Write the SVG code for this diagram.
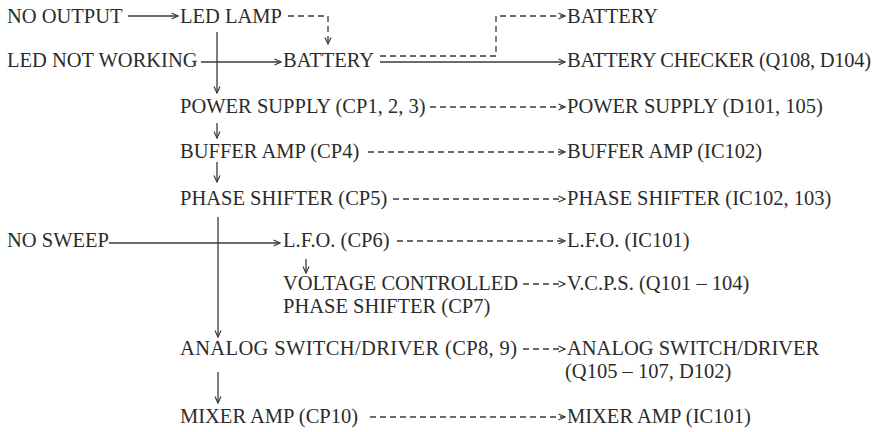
<svg xmlns="http://www.w3.org/2000/svg" width="875" height="432" viewBox="0 0 875 432">
<style>
text { font-family: "Liberation Serif", "Times New Roman", serif; font-size: 20.5px; fill: #2b2b2b; }
.ln { stroke: #3a3a3a; stroke-width: 1.3; fill: none; }
.dash { stroke-dasharray: 6 4; }
</style>
<defs>
<marker id="ah" viewBox="0 0 8 8" refX="7.5" refY="4" markerWidth="8" markerHeight="8" orient="auto" markerUnits="userSpaceOnUse">
<path d="M1,1 L7.5,4 L1,7" fill="none" stroke="#3a3a3a" stroke-width="1.2"/>
</marker>
</defs>
<rect width="875" height="432" fill="#ffffff"/>

<g id="connectors">
<line class="ln" x1="128" y1="16" x2="178" y2="16" marker-end="url(#ah)"/>
<path class="ln dash" d="M288,16 H328 V44" marker-end="url(#ah)"/>
<line class="ln" x1="201" y1="62" x2="281" y2="62" marker-end="url(#ah)"/>
<line class="ln" x1="217" y1="32" x2="217" y2="93" marker-end="url(#ah)"/>
<path class="ln dash" d="M380,56 H496 V16 H565" marker-end="url(#ah)"/>
<line class="ln" x1="380" y1="62" x2="565" y2="62" marker-end="url(#ah)"/>
<line class="ln dash" x1="430" y1="107" x2="565" y2="107" marker-end="url(#ah)"/>
<line class="ln" x1="217" y1="123" x2="217" y2="138" marker-end="url(#ah)"/>
<line class="ln dash" x1="368" y1="152" x2="565" y2="152" marker-end="url(#ah)"/>
<line class="ln" x1="217" y1="162" x2="217" y2="182" marker-end="url(#ah)"/>
<line class="ln dash" x1="393" y1="199" x2="565" y2="199" marker-end="url(#ah)"/>
<line class="ln" x1="218" y1="217" x2="218" y2="337" marker-end="url(#ah)"/>
<line class="ln" x1="109" y1="243" x2="280" y2="243" marker-end="url(#ah)"/>
<line class="ln dash" x1="397" y1="241" x2="565" y2="241" marker-end="url(#ah)"/>
<line class="ln" x1="306" y1="259" x2="306" y2="273" marker-end="url(#ah)"/>
<line class="ln dash" x1="523" y1="284" x2="565" y2="284" marker-end="url(#ah)"/>
<line class="ln dash" x1="523" y1="349" x2="565" y2="349" marker-end="url(#ah)"/>
<line class="ln" x1="218" y1="372" x2="218" y2="403" marker-end="url(#ah)"/>
<line class="ln dash" x1="370" y1="417" x2="565" y2="417" marker-end="url(#ah)"/>
</g>

<g id="no-output"><text x="7" y="23">NO OUTPUT</text></g>
<g id="led-lamp"><text x="180" y="23">LED LAMP</text></g>
<g id="battery-right"><text x="567" y="23">BATTERY</text></g>
<g id="led-not-working"><text x="7" y="67">LED NOT WORKING</text></g>
<g id="battery"><text x="283" y="67">BATTERY</text></g>
<g id="battery-checker"><text x="567" y="67" textLength="304" lengthAdjust="spacing">BATTERY CHECKER (Q108, D104)</text></g>
<g id="power-supply-cp"><text x="180" y="113">POWER SUPPLY (CP1, 2, 3)</text></g>
<g id="power-supply-d"><text x="567" y="113">POWER SUPPLY (D101, 105)</text></g>
<g id="buffer-amp-cp"><text x="180" y="158">BUFFER AMP (CP4)</text></g>
<g id="buffer-amp-ic"><text x="567" y="158">BUFFER AMP (IC102)</text></g>
<g id="phase-shifter-cp"><text x="180" y="205">PHASE SHIFTER (CP5)</text></g>
<g id="phase-shifter-ic"><text x="567" y="205">PHASE SHIFTER (IC102, 103)</text></g>
<g id="no-sweep"><text x="7" y="247">NO SWEEP</text></g>
<g id="lfo-cp"><text x="283" y="247">L.F.O. (CP6)</text></g>
<g id="lfo-ic"><text x="567" y="247">L.F.O. (IC101)</text></g>
<g id="vcps-cp"><text x="283" y="290">VOLTAGE CONTROLLED<tspan x="283" dy="23">PHASE SHIFTER (CP7)</tspan></text></g>
<g id="vcps-q"><text x="567" y="290">V.C.P.S. (Q101 – 104)</text></g>
<g id="analog-switch-cp"><text x="180" y="355" textLength="337" lengthAdjust="spacing">ANALOG SWITCH/DRIVER (CP8, 9)</text></g>
<g id="analog-switch-q"><text x="567" y="355">ANALOG SWITCH/DRIVER<tspan x="565" dy="23">(Q105 – 107, D102)</tspan></text></g>
<g id="mixer-amp-cp"><text x="180" y="423">MIXER AMP (CP10)</text></g>
<g id="mixer-amp-ic"><text x="567" y="423">MIXER AMP (IC101)</text></g>
</svg>
